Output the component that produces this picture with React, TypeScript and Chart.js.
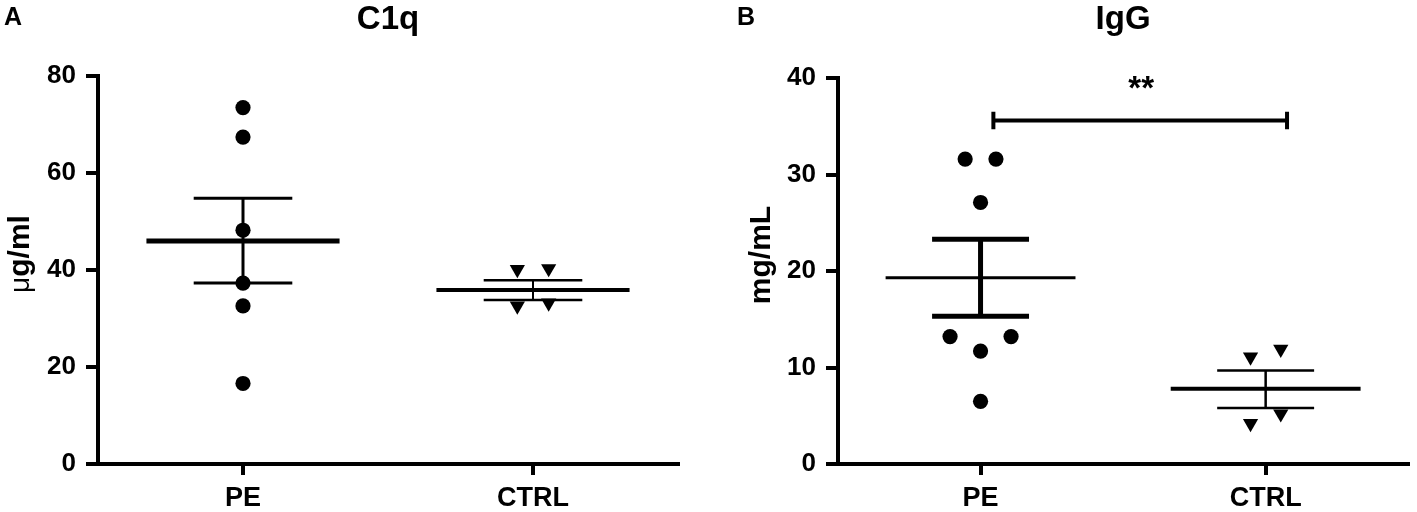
import React, { useEffect, useRef } from "react";
import { Chart, registerables } from "chart.js";

Chart.register(...registerables);
const FONT = "'Liberation Sans', Arial, sans-serif";
Chart.defaults.font.family = FONT;

// ---------- data ----------
const categories = ["PE", "CTRL"];

// Panel A – C1q (µg/ml)
const c1qTicks = [0, 20, 40, 60, 80];
const c1qPE = [73.5, 67.4, 48.2, 37.3, 32.6, 16.6];
const c1qPEJitter = [0, 0, 0, 0, 0, 0];
const c1qCTRL = [40.1, 40.3, 32.6, 33.2];
const c1qCTRLJitter = [-0.054, 0.054, -0.054, 0.054];
const c1qMean = [46.0, 35.9];
const c1qSemLow = [37.3, 33.8];
const c1qSemHigh = [54.8, 37.9];

// Panel B – IgG (mg/mL)
const iggTicks = [0, 10, 20, 30, 40];
const iggPE = [31.6, 31.6, 27.1, 13.2, 13.2, 11.7, 6.5];
const iggPEJitter = [-0.054, 0.054, 0, -0.107, 0.107, 0, 0];
const iggCTRL = [11.1, 11.9, 5.2, 4.2];
const iggCTRLJitter = [-0.053, 0.053, 0.053, -0.053];
const iggMean = [19.3, 7.8];
const iggSemLow = [15.3, 5.8];
const iggSemHigh = [23.3, 9.7];
const iggSigLevel = [35.6];
const iggSigLabel = "**";

// ---------- styling constants ----------
const BLACK = "#000000";
const MEAN_HALF = 0.333;
const CAP_HALF = 0.17;

type Panel = {
  letter: string;
  letterX: number;
  title: string;
  yTitleLight: string;
  yTitleBold: string;
  yTitleX: number;
  yMax: number;
  ticks: number[];
  pe: number[];
  peJ: number[];
  ctrl: number[];
  ctrlJ: number[];
  mean: number[];
  lo: number[];
  hi: number[];
  meanW: number[];
  capW: number[];
  vertW: number[];
  yAxisWidth: number;
  rightPad: number;
  titleGap: number;
  sig?: { level: number; from: number; to: number; label: string };
};

function seg(data: { x: number; y: number }[], width: number) {
  return {
    type: "line" as const,
    data,
    showLine: true,
    borderColor: BLACK,
    backgroundColor: BLACK,
    borderWidth: width,
    pointRadius: 0,
    pointHoverRadius: 0,
    fill: false,
    order: 2,
  };
}

function buildDatasets(p: Panel) {
  const ds: any[] = [];
  ds.push({
    type: "scatter",
    data: p.pe.map((v, i) => ({ x: 0 + p.peJ[i], y: v })),
    pointStyle: "circle",
    pointRadius: 7.6,
    pointHoverRadius: 7.6,
    backgroundColor: BLACK,
    borderWidth: 0,
    order: 0,
  });
  ds.push({
    type: "scatter",
    data: p.ctrl.map((v, i) => ({ x: 1 + p.ctrlJ[i], y: v })),
    pointStyle: "triangle",
    rotation: 180,
    pointRadius: 8.8,
    pointHoverRadius: 8.8,
    backgroundColor: BLACK,
    borderWidth: 0,
    order: 0,
  });
  for (let g = 0; g < 2; g++) {
    ds.push(seg([{ x: g - MEAN_HALF, y: p.mean[g] }, { x: g + MEAN_HALF, y: p.mean[g] }], p.meanW[g]));
    ds.push(seg([{ x: g - CAP_HALF, y: p.hi[g] }, { x: g + CAP_HALF, y: p.hi[g] }], p.capW[g]));
    ds.push(seg([{ x: g - CAP_HALF, y: p.lo[g] }, { x: g + CAP_HALF, y: p.lo[g] }], p.capW[g]));
    ds.push(seg([{ x: g, y: p.lo[g] }, { x: g, y: p.hi[g] }], p.vertW[g]));
  }
  if (p.sig) {
    const s = p.sig;
    ds.push(seg([{ x: s.from, y: s.level }, { x: s.to, y: s.level }], 4));
    ds.push(seg([{ x: s.from, y: s.level - 0.9 }, { x: s.from, y: s.level + 0.9 }], 4));
    ds.push(seg([{ x: s.to, y: s.level - 0.9 }, { x: s.to, y: s.level + 0.9 }], 4));
  }
  return ds;
}

function makeConfig(p: Panel): any {
  const textPlugin = {
    id: "panelText" + p.letter,
    afterDraw(chart: any) {
      const ctx = chart.ctx;
      const area = chart.chartArea;
      ctx.save();
      ctx.fillStyle = BLACK;
      // panel letter
      ctx.font = `bold 25px ${FONT}`;
      ctx.textAlign = "left";
      ctx.textBaseline = "alphabetic";
      ctx.fillText(p.letter, p.letterX, 25);

      // y-axis title (rotated), µ in regular weight, rest bold
      const lightFont = `28px ${FONT}`;
      const boldFont = `bold 30px ${FONT}`;
      ctx.font = lightFont;
      const wl = p.yTitleLight ? ctx.measureText(p.yTitleLight).width : 0;
      ctx.font = boldFont;
      const wb = ctx.measureText(p.yTitleBold).width;
      const total = wl + wb;
      const cy = (area.top + area.bottom) / 2 - 16;
      ctx.save();
      ctx.translate(p.yTitleX, cy);
      ctx.rotate(-Math.PI / 2);
      ctx.textBaseline = "middle";
      ctx.textAlign = "left";
      let x0 = -total / 2;
      if (p.yTitleLight) {
        ctx.font = lightFont;
        ctx.fillText(p.yTitleLight, x0, 0);
        x0 += wl;
      }
      ctx.font = boldFont;
      ctx.fillText(p.yTitleBold, x0, 0);
      ctx.restore();

      // significance label
      if (p.sig) {
        const xs = chart.scales.x;
        const ys = chart.scales.y;
        const cx = (xs.getPixelForValue(p.sig.from) + xs.getPixelForValue(p.sig.to)) / 2;
        const by = ys.getPixelForValue(p.sig.level);
        ctx.font = `bold 33px ${FONT}`;
        ctx.textAlign = "center";
        ctx.textBaseline = "alphabetic";
        ctx.fillText(p.sig.label, cx + 1, by - 21);
      }
      ctx.restore();
    },
  };

  return {
    type: "scatter",
    data: { datasets: buildDatasets(p) },
    plugins: [textPlugin],
    options: {
      animation: false,
      responsive: false,
      devicePixelRatio: 1,
      events: [],
      layout: { padding: { left: 0, right: p.rightPad, top: 0, bottom: 0 } },
      plugins: {
        legend: { display: false },
        tooltip: { enabled: false },
        title: {
          display: true,
          text: p.title,
          fullSize: false,
          color: BLACK,
          font: { size: 33, weight: "bold" },
          padding: { top: 0, bottom: p.titleGap },
        },
      },
      scales: {
        x: {
          type: "linear",
          min: -0.5,
          max: 1.5,
          afterBuildTicks: (s: any) => {
            s.ticks = categories.map((_, i) => ({ value: i }));
          },
          afterFit: (s: any) => {
            s.height = 48;
          },
          ticks: {
            callback: (v: any) => categories[v] ?? "",
            color: BLACK,
            font: { size: 27, weight: "bold" },
            padding: 7,
            maxRotation: 0,
            autoSkip: false,
          },
          grid: {
            drawOnChartArea: false,
            drawTicks: true,
            tickLength: 11,
            lineWidth: 4,
            color: BLACK,
          },
          border: { display: true, width: 4, color: BLACK },
        },
        y: {
          type: "linear",
          min: 0,
          max: p.yMax,
          afterBuildTicks: (s: any) => {
            s.ticks = p.ticks.map((v) => ({ value: v }));
          },
          afterFit: (s: any) => {
            s.width = p.yAxisWidth;
          },
          ticks: {
            color: BLACK,
            font: { size: 26, weight: "bold" },
            padding: 10,
          },
          grid: {
            drawOnChartArea: false,
            drawTicks: true,
            tickLength: 12,
            lineWidth: 4,
            color: BLACK,
          },
          border: { display: true, width: 4, color: BLACK },
          title: { display: false },
        },
      },
    },
  };
}

const panelA: Panel = {
  letter: "A",
  letterX: 4,
  title: "C1q",
  yTitleLight: "μ",
  yTitleBold: "g/ml",
  yTitleX: 21,
  yMax: 80,
  ticks: c1qTicks,
  pe: c1qPE,
  peJ: c1qPEJitter,
  ctrl: c1qCTRL,
  ctrlJ: c1qCTRLJitter,
  mean: c1qMean,
  lo: c1qSemLow,
  hi: c1qSemHigh,
  meanW: [5, 4],
  capW: [3, 2.5],
  vertW: [3, 2],
  yAxisWidth: 98,
  rightPad: 27,
  titleGap: 36.4,
};

const panelB: Panel = {
  letter: "B",
  letterX: 32,
  title: "IgG",
  yTitleLight: "",
  yTitleBold: "mg/mL",
  yTitleX: 57,
  yMax: 40,
  ticks: iggTicks,
  pe: iggPE,
  peJ: iggPEJitter,
  ctrl: iggCTRL,
  ctrlJ: iggCTRLJitter,
  mean: iggMean,
  lo: iggSemLow,
  hi: iggSemHigh,
  meanW: [3, 4],
  capW: [5, 2.5],
  vertW: [5, 2.5],
  yAxisWidth: 133,
  rightPad: 3,
  titleGap: 38.4,
  sig: { level: iggSigLevel[0], from: 0.045, to: 1.075, label: iggSigLabel },
};

function PanelChart({ panel, width }: { panel: Panel; width: number }) {
  const ref = useRef<HTMLCanvasElement | null>(null);
  useEffect(() => {
    if (!ref.current) return;
    const chart = new Chart(ref.current, makeConfig(panel));
    return () => chart.destroy();
  }, [panel]);
  return (
    <canvas
      ref={ref}
      width={width}
      height={512}
      style={{ display: "block", width: width + "px", height: "512px" }}
    />
  );
}

export default function App() {
  return (
    <div
      style={{
        position: "absolute",
        left: 0,
        top: 0,
        width: 1417,
        height: 512,
        background: "#ffffff",
        overflow: "hidden",
      }}
    >
      <div style={{ position: "absolute", left: 0, top: 0, width: 705, height: 512 }}>
        <PanelChart panel={panelA} width={705} />
      </div>
      <div style={{ position: "absolute", left: 705, top: 0, width: 712, height: 512 }}>
        <PanelChart panel={panelB} width={712} />
      </div>
    </div>
  );
}
